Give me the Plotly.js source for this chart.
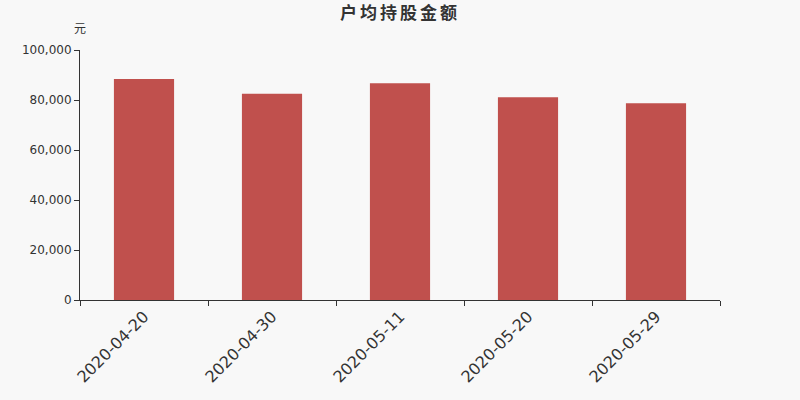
<!DOCTYPE html>
<html>
<head>
<meta charset="utf-8">
<script src="https://cdn.plot.ly/plotly-3.0.1.min.js"></script>
<style>
  html, body { margin: 0; padding: 0; background: #f8f8f8; }
  #chart { width: 800px; height: 400px; }
  #chart .gtitle { letter-spacing: 3px; }
</style>
</head>
<body>
<div id="chart"></div>
<script>
// 户均持股金额 (元)
const dates = ['2020-04-20', '2020-04-30', '2020-05-11', '2020-05-20', '2020-05-29'];
const amounts = [88400, 82500, 86700, 81100, 78700];
const yTicks = [0, 20000, 40000, 60000, 80000, 100000];
const yTickText = ['0', '20,000', '40,000', '60,000', '80,000', '100,000'];

const barColor = '#c0504d';
const axisColor = '#333333';
const labelFont = "'DejaVu Sans', sans-serif";

const traces = [{
    type: 'bar',
    x: dates,
    y: amounts,
    marker: { color: barColor },
    width: 0.47,
    hoverinfo: 'x+y'
}];

const layout = {
    width: 800,
    height: 400,
    paper_bgcolor: '#f8f8f8',
    plot_bgcolor: '#f8f8f8',
    margin: { t: 50, r: 80, b: 100, l: 80 },
    showlegend: false,
    title: {
        text: '<b>户均持股金额</b>',
        font: { family: "'Noto Sans CJK SC', sans-serif", size: 17, color: axisColor },
        x: 0.5,
        xanchor: 'center',
        y: 0.968,
        yanchor: 'middle'
    },
    xaxis: {
        type: 'category',
        showline: true,
        linecolor: axisColor,
        linewidth: 1,
        ticks: 'outside',
        tickson: 'boundaries',
        ticklen: 5,
        tickcolor: axisColor,
        tickangle: -45,
        tickfont: { family: labelFont, size: 16, color: axisColor },
        showgrid: false,
        zeroline: false
    },
    yaxis: {
        range: [0, 100000],
        tickvals: yTicks,
        ticktext: yTickText,
        showline: true,
        linecolor: axisColor,
        linewidth: 1,
        ticks: 'outside',
        ticklen: 5,
        tickcolor: axisColor,
        tickfont: { family: labelFont, size: 12, color: axisColor },
        showgrid: false,
        zeroline: false
    },
    annotations: [{
        text: '元',
        xref: 'paper',
        yref: 'paper',
        x: 0,
        y: 1,
        xanchor: 'center',
        yanchor: 'bottom',
        yshift: 12,
        showarrow: false,
        font: { family: "'Noto Sans CJK SC', sans-serif", size: 12, color: axisColor }
    }]
};

Plotly.newPlot('chart', traces, layout, { displayModeBar: false, staticPlot: true });
</script>
</body>
</html>
